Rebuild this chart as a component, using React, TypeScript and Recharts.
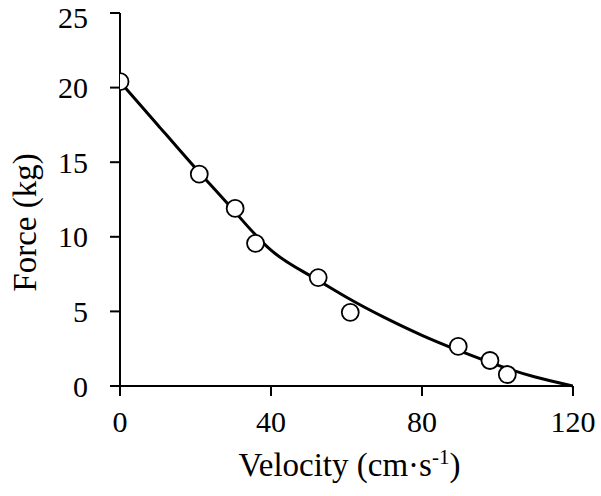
import { ComposedChart, Line, Scatter, XAxis, YAxis } from 'recharts'

// measured points (velocity cm/s, force kg)
const pointV = [0, 21, 30.5, 35.9, 52.5, 61, 89.6, 98, 102.6]
const pointF = [20.4, 14.2, 11.9, 9.56, 7.27, 4.94, 2.65, 1.71, 0.77]

// fitted curve
const curveV = [0, 10, 20, 30, 40, 50, 60, 70, 80, 90, 100, 110, 120]
const curveF = [20.4, 17.5, 14.6, 11.8, 9.1, 7.45, 5.95, 4.6, 3.4, 2.35, 1.4, 0.6, 0]

const xTicks = [0, 40, 80, 120]
const yTicks = [0, 5, 10, 15, 20, 25]

const points = pointV.map((v, i) => ({ v, f: pointF[i] }))
const curve = curveV.map((v, i) => ({ v, f: curveF[i] }))

const font = 'Liberation Serif'
const tickStyle = { fill: '#000', fontSize: 30, fontFamily: font }

const OpenDot = (props: any) => {
  const { cx, cy } = props
  return <circle cx={cx} cy={cy} r={8.5} fill="#fff" stroke="#000" strokeWidth={1.8} />
}

const XTitle = (props: any) => {
  const { viewBox } = props
  const cx = viewBox.x + viewBox.width / 2
  return (
    <text x={cx + 3} y={viewBox.y + 90} textAnchor="middle" fontFamily={font} fontSize={33} fill="#000">
      Velocity (cm·s
      <tspan fontSize={21} dy={-12}>-1</tspan>
      <tspan dy={12}>)</tspan>
    </text>
  )
}

const YTitle = (props: any) => {
  const { viewBox } = props
  const cy = viewBox.y + viewBox.height / 2 + 23
  const x = 36
  return (
    <text x={x} y={cy} transform={`rotate(-90, ${x}, ${cy})`} textAnchor="middle" fontFamily={font} fontSize={33} fill="#000">
      Force (kg)
    </text>
  )
}

export default function App() {
  return (
    <div style={{ position: 'absolute', left: 0, top: 0, background: '#fff' }}>
      <ComposedChart width={601} height={496} margin={{ top: 13, right: 28, bottom: 0, left: 0 }}>
        <XAxis
          type="number"
          dataKey="v"
          domain={[0, 120]}
          ticks={xTicks}
          allowDataOverflow
          height={110}
          stroke="#000"
          strokeWidth={2}
          tickSize={10}
          tickMargin={15}
          tick={tickStyle}
          label={<XTitle />}
        />
        <YAxis
          type="number"
          dataKey="f"
          domain={[0, 25]}
          ticks={yTicks}
          width={120}
          stroke="#000"
          strokeWidth={2}
          tickSize={10}
          tickMargin={22}
          tick={tickStyle}
          label={<YTitle />}
        />
        <Line
          data={curve}
          dataKey="f"
          type="natural"
          stroke="#000"
          strokeWidth={3}
          dot={false}
          activeDot={false}
          isAnimationActive={false}
        />
        <Scatter data={points} dataKey="f" shape={<OpenDot />} isAnimationActive={false} />
      </ComposedChart>
    </div>
  )
}
